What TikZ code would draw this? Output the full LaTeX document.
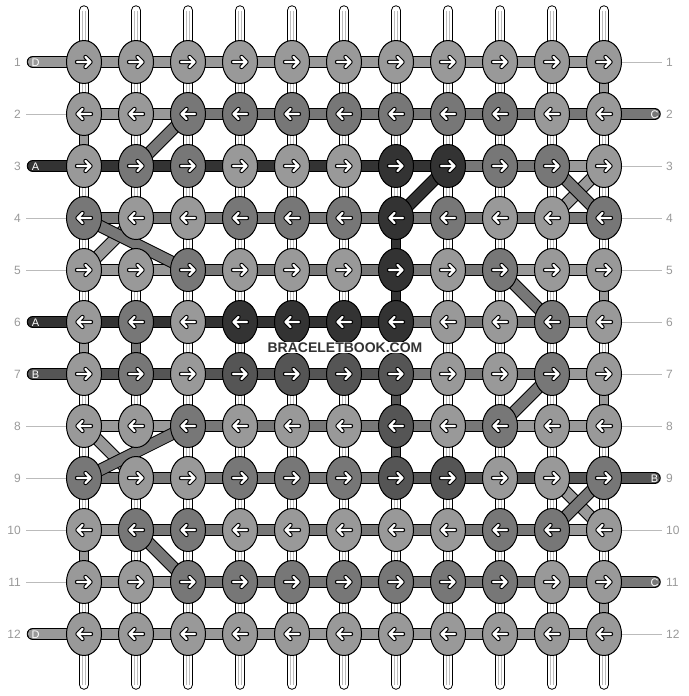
\documentclass[tikz,border=0pt]{standalone}
\usepackage{fontspec}
\setmainfont{Liberation Sans}
\usetikzlibrary{shapes.geometric}
\pgfdeclarelayer{strings}
\pgfdeclarelayer{bars}
\pgfsetlayers{strings,bars,main}
\definecolor{cA}{HTML}{333333}
\definecolor{cB}{HTML}{555555}
\definecolor{cC}{HTML}{777777}
\definecolor{cD}{HTML}{999999}
\definecolor{numgray}{HTML}{999999}
\definecolor{guide}{HTML}{BBBBBB}
\definecolor{vline}{HTML}{BBBBBB}
\newcommand\strandline[3]{%
  \draw[line width=12.5pt,black] (#2) -- (#3);
  \draw[line width=10.5pt,#1] (#2) -- (#3);}
\begin{document}
\begin{tikzpicture}[x=1pt,y=-1pt,
  knot/.style={ellipse, draw=black, line width=1pt, minimum width=35pt, minimum height=43pt, inner sep=0pt},
  arrowbk/.style={line width=4.4pt, black, line cap=round, line join=round},
  arrowfg/.style={line width=2.4pt, white, line cap=round, line join=round},
  numlabel/.style={text=numgray, font=\fontsize{12}{12}\selectfont, inner sep=0pt},
  taillabel/.style={text=white, font=\fontsize{11}{11}\selectfont, inner sep=0pt},
  guideline/.style={draw=guide, line width=1pt}]
\useasboundingbox (0,0) rectangle (688,696);

% knots
\foreach \r/\kl [evaluate=\r as \dir using {ifthenelse(mod(\r,2)==1,1,-1)}] in {
1/{D,D,D,D,D,D,D,D,D,D,D},
2/{D,D,C,C,C,C,C,C,C,D,D},
3/{D,C,C,D,D,D,A,A,C,C,D},
4/{C,D,D,C,C,C,A,C,D,D,C},
5/{D,D,C,D,D,D,A,D,C,D,D},
6/{D,C,D,A,A,A,A,D,D,C,D},
7/{D,C,D,B,B,B,B,D,D,C,D},
8/{D,D,C,D,D,D,B,D,C,D,D},
9/{C,D,D,C,C,C,B,B,D,D,C},
10/{D,C,C,D,D,D,D,D,C,C,D},
11/{D,D,C,C,C,C,C,C,C,D,D},
12/{D,D,D,D,D,D,D,D,D,D,D}}{
  \foreach \k [count=\c] in \kl {
    \node[knot, fill=c\k] (k-\r-\c) at ({84+52*(\c-1)},{62+52*(\r-1)}) {};
    \begin{scope}[shift={(k-\r-\c.center)}, xscale=\dir]
      \draw[arrowbk] (-7,0) -- (6.5,0) (1.5,-5) -- (6.5,0) -- (1.5,5);
      \draw[arrowfg] (-7,0) -- (6.5,0) (1.5,-5) -- (6.5,0) -- (1.5,5);
    \end{scope}
  }
}

% vertical white strings
\foreach \c in {1,...,11}{
  \coordinate (t-\c) at ({84+52*(\c-1)},10.5);
  \coordinate (bt-\c) at ({84+52*(\c-1)},684.5);
}
\begin{pgfonlayer}{strings}
\foreach \c in {1,...,11}{
  \draw[line width=10.5pt, black, line cap=round] (t-\c) -- (bt-\c);
  \draw[line width=8.5pt, white, line cap=round] (t-\c) -- (bt-\c);
  \draw[vline, line width=0.6pt] ([xshift=-1.4pt]t-\c) -- ([xshift=-1.4pt]bt-\c);
  \draw[vline, line width=0.6pt] ([xshift=1.4pt]t-\c) -- ([xshift=1.4pt]bt-\c);
}
\end{pgfonlayer}

\begin{pgfonlayer}{bars}
% horizontal segments
\foreach \r/\sl in {
1/{D,D,D,D,D,D,D,D,D,D},
2/{D,D,C,C,C,C,C,C,C,C},
3/{A,A,A,A,A,A,A,C,C,D},
4/{C,C,C,C,C,C,C,C,C,C},
5/{D,D,C,C,C,C,C,C,D,D},
6/{A,A,A,A,A,A,C,C,C,D},
7/{B,B,B,B,B,B,C,C,C,D},
8/{D,D,C,C,C,C,C,C,D,D},
9/{C,C,C,C,C,C,B,B,B,B},
10/{D,C,C,C,C,C,C,C,C,D},
11/{D,D,C,C,C,C,C,C,C,C},
12/{D,D,D,D,D,D,D,D,D,D}}{
  \foreach \s [count=\c] in \sl {
    \pgfmathtruncatemacro\cn{\c+1}
    \strandline{c\s}{k-\r-\c.center}{k-\r-\cn.center}
  }
}
% coloured vertical links
\foreach \r/\c/\k in {1/11/D, 2/1/D, 4/7/A, 5/7/A, 5/11/D, 6/1/D, 6/2/C, 7/7/B, 7/11/D, 8/7/B, 10/1/D, 11/11/D}{
  \pgfmathtruncatemacro\rn{\r+1}
  \draw[line width=10.5pt, black] (k-\r-\c.center) -- (k-\rn-\c.center);
  \draw[line width=8.5pt, c\k] (k-\r-\c.center) -- (k-\rn-\c.center);
}
% diagonals
\foreach \ra/\ca/\rb/\cb/\k in {3/11/4/10/D, 4/2/5/1/D, 8/1/9/2/D, 9/10/10/11/D,
  2/3/3/2/C, 3/10/4/11/C, 4/1/5/3/C, 5/9/6/10/C, 7/10/8/9/C, 8/3/9/1/C, 9/11/10/10/C, 10/2/11/3/C,
  3/8/4/7/A}{
  \strandline{c\k}{k-\ra-\ca.center}{k-\rb-\cb.center}
}
% tails
\foreach \r/\k in {1/D, 3/A, 6/A, 7/B, 12/D}{
  \coordinate (tl-\r) at (33,{62+52*(\r-1)});
  \draw[line width=12.5pt, black, line cap=round] (tl-\r) -- (k-\r-1.center);
  \draw[line width=10.5pt, c\k, line cap=round] (tl-\r) -- (k-\r-1.center);
}
\foreach \r/\k in {2/C, 9/B, 11/C}{
  \coordinate (tr-\r) at (654.5,{62+52*(\r-1)});
  \draw[line width=12.5pt, black, line cap=round] (tr-\r) -- (k-\r-11.center);
  \draw[line width=10.5pt, c\k, line cap=round] (tr-\r) -- (k-\r-11.center);
}
\end{pgfonlayer}

% tail letters
\foreach \r/\k in {1/D, 3/A, 6/A, 7/B, 12/D}{
  \node[taillabel] (tlab-\r) at (35.5,{62.5+52*(\r-1)}) {\k};
}
\foreach \r/\k in {2/C, 9/B, 11/C}{
  \node[taillabel] (trab-\r) at (654.5,{62.5+52*(\r-1)}) {\k};
}

% guide lines
\foreach \r in {2,4,5,8,9,10,11}{
  \coordinate (gl-\r) at (26,{62+52*(\r-1)});
  \draw[guideline] (gl-\r) -- (k-\r-1.west);
}
\foreach \r in {1,3,4,5,6,7,8,10,12}{
  \coordinate (gr-\r) at (662,{62+52*(\r-1)});
  \draw[guideline] (k-\r-11.east) -- (gr-\r);
}

% row numbers
\foreach \r in {1,...,12}{
  \node[numlabel, anchor=east] (nl-\r) at (21,{62.5+52*(\r-1)}) {\r};
  \node[numlabel, anchor=west] (nr-\r) at (666,{62.5+52*(\r-1)}) {\r};
}

% watermark
\node[fill=white, inner sep=1pt, text=cA, font=\bfseries\fontsize{14}{14}\selectfont] (wm) at (345,347.5) {BRACELETBOOK.COM};
\end{tikzpicture}
\end{document}
